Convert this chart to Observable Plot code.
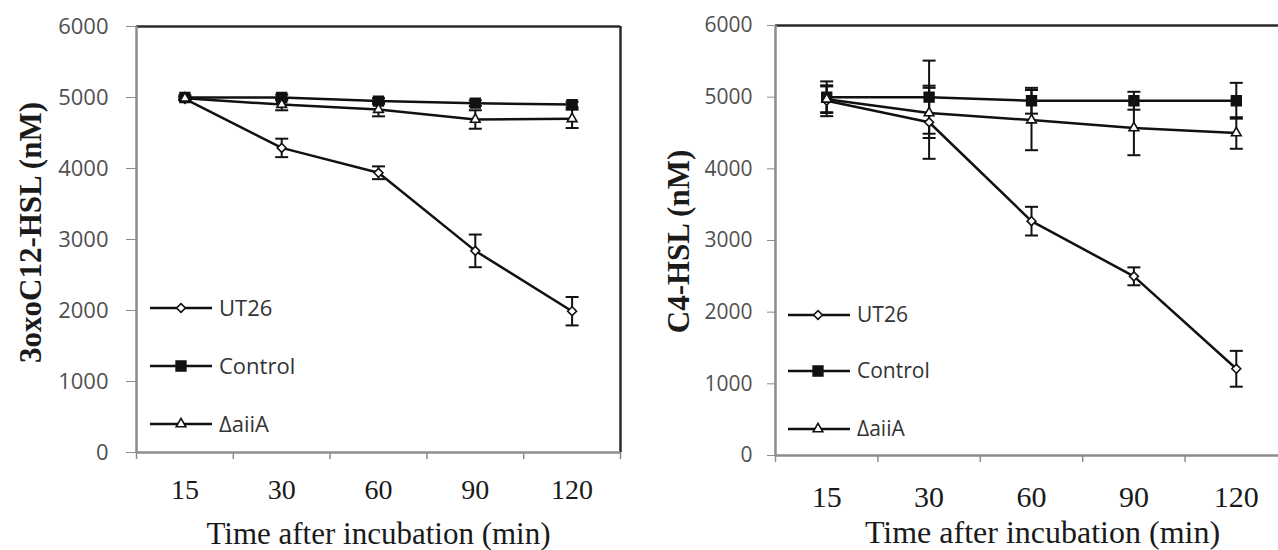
<!DOCTYPE html>
<html><head><meta charset="utf-8">
<script src="https://cdn.jsdelivr.net/npm/d3@7"></script>
<script src="https://cdn.jsdelivr.net/npm/@observablehq/plot@0.6"></script>
<style>
html,body{margin:0;padding:0;background:#fff;width:1278px;height:550px;overflow:hidden;}
#wrap{position:relative;width:1278px;height:550px;overflow:hidden;background:#fff;}
.panel{position:absolute;top:0;}
.panel svg{max-width:none !important;}
</style></head><body><div id="wrap"></div>
<script>
// ---- data ----
const times = ["15", "30", "60", "90", "120"];
const seriesNames = ["UT26", "Control", "ΔaiiA"];
const yTicks = [0, 1000, 2000, 3000, 4000, 5000, 6000];
const xTitle = "Time after incubation (min)";

// Left panel: 3oxoC12-HSL
const c12Title = "3oxoC12-HSL (nM)";
const c12UT26 = [4980, 4290, 3940, 2840, 1990];
const c12UT26Err = [20, 130, 90, 230, 200];
const c12Control = [5000, 5000, 4950, 4920, 4900];
const c12ControlErr = [30, 40, 40, 40, 40];
const c12Aiia = [4990, 4900, 4830, 4690, 4700];
const c12AiiaErr = [20, 80, 95, 130, 130];

// Right panel: C4-HSL
const c4Title = "C4-HSL (nM)";
const c4UT26 = [4950, 4650, 3270, 2500, 1210];
const c4UT26Err = [215, 510, 200, 125, 250];
const c4Control = [5000, 5000, 4950, 4950, 4950];
const c4ControlErr = [220, 510, 180, 125, 250];
const c4Aiia = [4970, 4780, 4680, 4570, 4500];
const c4AiiaErr = [180, 350, 420, 380, 220];

// ---- styling ----
const symbolStyles = {
  "UT26":    {plot: "diamond2", d3s: d3.symbolDiamond2, fill: "#fff", r: 4},
  "Control": {plot: "square",   d3s: d3.symbolSquare,   fill: "#111", r: 5.5},
  "ΔaiiA":   {plot: "triangle", d3s: d3.symbolTriangle, fill: "#fff", r: 3.6}
};
const capSymbol = {draw(ctx, size) { const r = Math.sqrt(size / Math.PI); ctx.moveTo(-r, 0); ctx.lineTo(r, 0); }};

function rows(vals, errs, name) {
  return times.map((t, i) => ({i, t, v: vals[i], e: errs[i], s: name}));
}

function panel(cfg) {
  const data = cfg.series.flatMap(([vals, errs], k) => rows(vals, errs, seriesNames[k]));
  const dotMarks = seriesNames.map(name => {
    const st = symbolStyles[name];
    return Plot.dot(data.filter(d => d.s === name), {x: "i", y: "v", symbol: st.plot, r: st.r, fill: st.fill, stroke: "#111", strokeWidth: 1.6});
  });
  const svg = Plot.plot({
    width: cfg.width, height: 550,
    marginLeft: cfg.ml, marginRight: cfg.mr, marginTop: cfg.mt, marginBottom: cfg.mb,
    x: {domain: [-0.5, times.length - 0.5], axis: null},
    y: {domain: [0, 6000], axis: null},
    style: {background: "transparent", overflow: "visible", maxWidth: "none"},
    marks: [
      Plot.axisY(yTicks, {label: null, tickSize: cfg.ytick, tickPadding: cfg.ypad, stroke: "#8c8c8c", fill: "#505050",
        fontSize: cfg.yfs, fontFamily: "Open Sans", tickFormat: d => String(d)}),
      Plot.axisX(d3.range(times.length), {label: null, tickSize: 0, tickPadding: cfg.xpad, tickFormat: i => times[i],
        fontSize: cfg.xfs, fontFamily: "Liberation Serif", fill: "#1a1a1a"}),
      Plot.axisX(d3.range(times.length + 1).map(i => i - 0.5), {label: null, tickSize: 7, tickFormat: () => "", stroke: "#8c8c8c", strokeWidth: 1.5}),
      Plot.ruleY([6000], {stroke: "#2a2a2a", strokeWidth: 2.5}),
      Plot.ruleX([times.length - 0.5], {stroke: "#2a2a2a", strokeWidth: 2.5}),
      Plot.ruleX([-0.5], {stroke: "#8c8c8c", strokeWidth: 2.5}),
      Plot.ruleY([0], {stroke: "#8c8c8c", strokeWidth: 2.5}),
      Plot.line(data, {x: "i", y: "v", z: "s", stroke: "#111", strokeWidth: 2.5}),
      Plot.ruleX(data, {x: "i", y1: d => d.v - d.e, y2: d => d.v + d.e, stroke: "#111", strokeWidth: 2}),
      Plot.dot(data, {x: "i", y: d => d.v + d.e, symbol: capSymbol, r: 6.5, stroke: "#111", strokeWidth: 2}),
      Plot.dot(data, {x: "i", y: d => d.v - d.e, symbol: capSymbol, r: 6.5, stroke: "#111", strokeWidth: 2}),
      ...dotMarks,
      Plot.text([xTitle], {text: d => d, frameAnchor: "bottom", lineAnchor: "bottom", dx: cfg.xtDx, dy: cfg.xtDy,
        fontSize: cfg.xtfs, fontFamily: "Liberation Serif", fill: "#1a1a1a"}),
      Plot.text([cfg.yTitle], {text: d => d, frameAnchor: "left", rotate: -90, lineAnchor: "bottom", textAnchor: "middle",
        dx: cfg.ytDx, dy: cfg.ytDy, fontSize: cfg.ytfs, fontWeight: "bold", fontFamily: "Liberation Serif", fill: "#1a1a1a"})
    ]
  });
  svg.style.maxWidth = "none";
  // legend
  const g = d3.select(svg).append("g").attr("text-anchor", "start");
  seriesNames.forEach((name, k) => {
    const st = symbolStyles[name];
    const y = cfg.legY[k];
    g.append("line").attr("x1", cfg.legX[0]).attr("x2", cfg.legX[1]).attr("y1", y).attr("y2", y)
      .attr("stroke", "#111").attr("stroke-width", 2.5);
    g.append("path").attr("d", d3.symbol(st.d3s, Math.PI * st.r * st.r)())
      .attr("transform", `translate(${cfg.legM},${y})`)
      .attr("fill", st.fill).attr("stroke", "#111").attr("stroke-width", 1.6);
    g.append("text").attr("x", cfg.legT).attr("y", y).attr("dy", "0.35em").attr("text-anchor", "start")
      .attr("font-family", "Open Sans").attr("font-size", cfg.legfs).attr("fill", "#333").text(name);
  });
  const div = document.createElement("div");
  div.className = "panel";
  div.style.left = cfg.left + "px";
  div.style.width = cfg.width + "px";
  div.appendChild(svg);
  document.getElementById("wrap").appendChild(div);
}

panel({
  left: 0, width: 640, ml: 136, mr: 20, mt: 26, mb: 98,
  series: [[c12UT26, c12UT26Err], [c12Control, c12ControlErr], [c12Aiia, c12AiiaErr]],
  ytick: 10, ypad: 18, yfs: 22, xfs: 28, xpad: 27,
  xtfs: 31, xtDx: 0, xtDy: 91, yTitle: c12Title, ytfs: 31, ytDx: -96, ytDy: -7,
  legX: [150, 212], legM: 181, legT: 219, legY: [308, 366, 424], legfs: 22
});
panel({
  left: 640, width: 647, ml: 135, mr: 0, mt: 25, mb: 95,
  series: [[c4UT26, c4UT26Err], [c4Control, c4ControlErr], [c4Aiia, c4AiiaErr]],
  ytick: 8, ypad: 15, yfs: 21, xfs: 30, xpad: 30,
  xtfs: 32, xtDx: 11, xtDy: 87, yTitle: c4Title, ytfs: 31, ytDx: -87, ytDy: 1,
  legX: [148, 210], legM: 178, legT: 217, legY: [315, 371, 429], legfs: 21
});
</script></body></html>
